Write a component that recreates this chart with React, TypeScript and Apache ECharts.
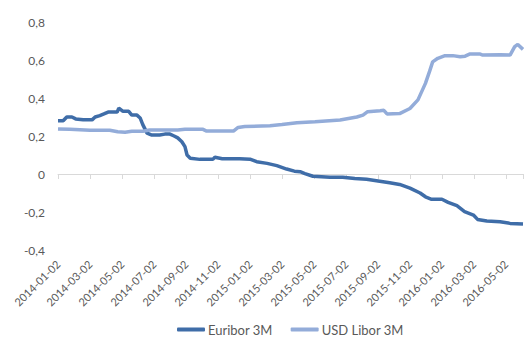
import React, { useEffect, useRef } from "react";
import * as echarts from "echarts";

// Euribor 3M fixings (%), sampled along the curve
const euriborDates = [
  "2014-01-02", "2014-01-12", "2014-01-19", "2014-01-29", "2014-02-05", "2014-02-18",
  "2014-03-06", "2014-03-12", "2014-03-21", "2014-03-29", "2014-04-06", "2014-04-23",
  "2014-04-26", "2014-05-04", "2014-05-15", "2014-05-21", "2014-05-31", "2014-06-06",
  "2014-06-11", "2014-06-19", "2014-06-28", "2014-07-13", "2014-07-23", "2014-08-02",
  "2014-08-10", "2014-08-17", "2014-08-25", "2014-08-31", "2014-09-04", "2014-09-10",
  "2014-09-28", "2014-10-23", "2014-10-27", "2014-11-10", "2014-12-13", "2015-01-02",
  "2015-01-15", "2015-02-04", "2015-02-21", "2015-03-11", "2015-03-26", "2015-04-06",
  "2015-04-15", "2015-04-30", "2015-06-02", "2015-06-26", "2015-07-19", "2015-08-11",
  "2015-08-30", "2015-09-24", "2015-10-13", "2015-11-02", "2015-11-21", "2015-12-01",
  "2015-12-13", "2016-01-02", "2016-01-14", "2016-01-31", "2016-02-14", "2016-03-01",
  "2016-03-09", "2016-03-27", "2016-04-21", "2016-05-10", "2016-06-04",
];
const euriborValues = [
  0.28, 0.28, 0.3, 0.3, 0.29, 0.285,
  0.285, 0.3, 0.307, 0.316, 0.326, 0.326,
  0.347, 0.33, 0.33, 0.31, 0.31, 0.295,
  0.26, 0.215, 0.205, 0.205, 0.21, 0.21,
  0.2, 0.19, 0.17, 0.144, 0.1, 0.083,
  0.077, 0.077, 0.088, 0.08, 0.08, 0.078,
  0.065, 0.056, 0.044, 0.026, 0.015, 0.012,
  0.002, -0.012, -0.017, -0.017, -0.024, -0.028,
  -0.035, -0.046, -0.055, -0.074, -0.1, -0.12,
  -0.133, -0.133, -0.149, -0.167, -0.198, -0.216,
  -0.239, -0.247, -0.251, -0.26, -0.263,
];

// USD Libor 3M fixings (%)
const liborDates = [
  "2014-01-02", "2014-01-25", "2014-03-02", "2014-04-09", "2014-04-24", "2014-05-08",
  "2014-05-21", "2014-06-11", "2014-06-24", "2014-08-17", "2014-08-31", "2014-10-04",
  "2014-10-11", "2014-12-01", "2014-12-10", "2014-12-23", "2015-02-09", "2015-03-02",
  "2015-03-31", "2015-05-04", "2015-06-21", "2015-07-23", "2015-08-04", "2015-08-13",
  "2015-09-06", "2015-09-13", "2015-09-19", "2015-10-13", "2015-11-02", "2015-11-17",
  "2015-12-01", "2015-12-09", "2015-12-15", "2015-12-25", "2016-01-08", "2016-01-23",
  "2016-02-06", "2016-02-15", "2016-02-24", "2016-03-13", "2016-03-19", "2016-04-21",
  "2016-05-10", "2016-05-19", "2016-05-25", "2016-06-04",
];
const liborValues = [
  0.237, 0.235, 0.23, 0.23, 0.222, 0.22,
  0.225, 0.225, 0.232, 0.232, 0.235, 0.235,
  0.226, 0.226, 0.245, 0.25, 0.254, 0.26,
  0.27, 0.275, 0.284, 0.3, 0.31, 0.328,
  0.333, 0.335, 0.316, 0.318, 0.345, 0.39,
  0.477, 0.54, 0.59, 0.609, 0.623, 0.623,
  0.617, 0.62, 0.632, 0.632, 0.626, 0.628,
  0.626, 0.67, 0.682, 0.656,
];

const seriesNames = ["Euribor 3M", "USD Libor 3M"];
const seriesColors = ["#3F6DA8", "#93ACD9"];

const START_YEAR = 2014;
const AXIS_END = "2016-06-04";

// Position of a date on the month scale (0 = 2014-01-02)
function monthIndex(date: string): number {
  const [y, m, d] = date.split("-").map(Number);
  const dim = new Date(y, m, 0).getDate();
  return (y - START_YEAR) * 12 + (m - 1) + (d - 2) / dim;
}

function monthLabel(v: number): string {
  const idx = Math.round(v);
  const y = START_YEAR + Math.floor(idx / 12);
  const m = (idx % 12) + 1;
  return `${y}-${String(m).padStart(2, "0")}-02`;
}

const FONT = "Lato, 'Open Sans', sans-serif";

export default function App() {
  const ref = useRef<HTMLDivElement>(null);

  useEffect(() => {
    if (!ref.current) return;
    document.body.style.margin = "0";
    const chart = echarts.init(ref.current, undefined, { renderer: "svg" });
    const xMax = monthIndex(AXIS_END);

    const toPairs = (dates: string[], vals: number[]) =>
      dates.map((d, i) => [monthIndex(d), vals[i]]);

    chart.setOption({
      animation: false,
      backgroundColor: "#ffffff",
      textStyle: { fontFamily: FONT },
      grid: { left: 58, right: 2, top: 22, bottom: 95, outerBoundsMode: "none", containLabel: false },
      legend: {
        top: 318,
        left: 172,
        itemGap: 18,
        itemWidth: 28,
        itemHeight: 4,
        icon: "roundRect",
        textStyle: { fontFamily: FONT, fontSize: 13, color: "#595959", padding: [0, 0, 0, -2] },
        data: seriesNames,
      },
      xAxis: [
        {
          // axis line with ticks through zero
          type: "value",
          min: 0,
          max: xMax,
          interval: 2,
          axisLine: { show: true, onZero: true, lineStyle: { color: "#D9D9D9", width: 1 } },
          axisTick: { show: true, length: 5, lineStyle: { color: "#D9D9D9" } },
          axisLabel: { show: false },
          splitLine: { show: false },
        },
        {
          // date labels below the plot
          type: "value",
          position: "bottom",
          min: 0,
          max: xMax,
          interval: 2,
          axisLine: { show: false, onZero: false },
          axisTick: { show: false },
          splitLine: { show: false },
          axisLabel: {
            show: true,
            rotate: 45,
            margin: 12,
            showMaxLabel: false,
            fontFamily: FONT,
            fontSize: 11,
            color: "#595959",
            formatter: (v: number) => monthLabel(v),
          },
        },
      ],
      yAxis: {
        type: "value",
        min: -0.4,
        max: 0.8,
        interval: 0.2,
        axisLine: { show: false },
        axisTick: { show: false },
        splitLine: { show: false },
        axisLabel: {
          margin: 13,
          fontFamily: FONT,
          fontSize: 12,
          color: "#595959",
          formatter: (v: number) => {
            const r = Math.round(v * 10) / 10;
            return r === 0 ? "0" : r.toFixed(1).replace(".", ",");
          },
        },
      },
      series: [
        {
          name: seriesNames[0],
          type: "line",
          xAxisIndex: 0,
          data: toPairs(euriborDates, euriborValues),
          showSymbol: false,
          lineStyle: { color: seriesColors[0], width: 3.5 },
          itemStyle: { color: seriesColors[0] },
        },
        {
          name: seriesNames[1],
          type: "line",
          xAxisIndex: 0,
          data: toPairs(liborDates, liborValues),
          showSymbol: false,
          lineStyle: { color: seriesColors[1], width: 3.5 },
          itemStyle: { color: seriesColors[1] },
        },
      ],
    });

    return () => chart.dispose();
  }, []);

  return <div ref={ref} style={{ width: 525, height: 345 }} />;
}
